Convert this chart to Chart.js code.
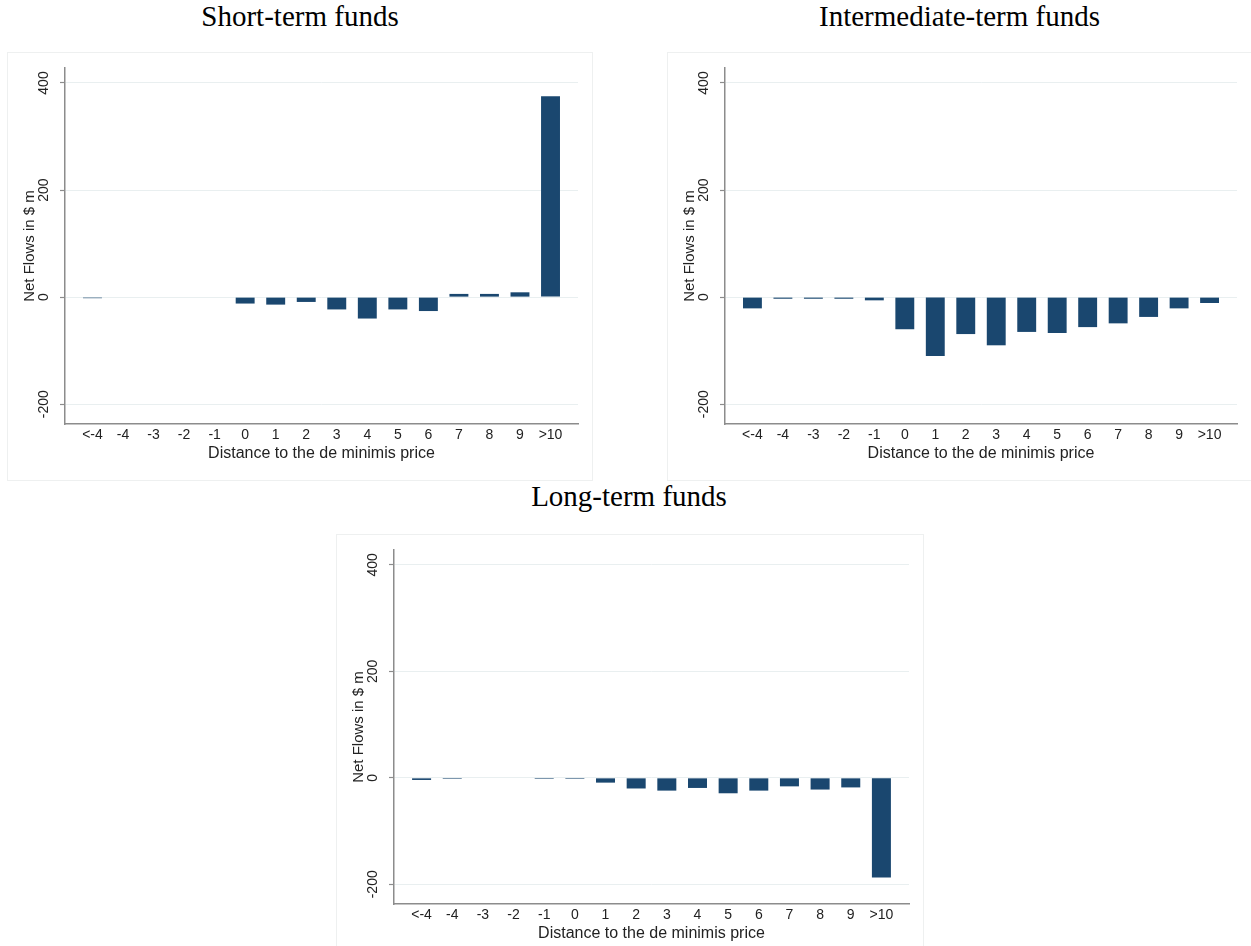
<!DOCTYPE html>
<html>
<head>
<meta charset="utf-8">
<script src="https://cdn.jsdelivr.net/npm/chart.js@4"></script>
<style>
    html, body {
        margin: 0;
        padding: 0;
        background: #fff;
        width: 1251px;
        height: 946px;
        overflow: hidden;
    }
    .panel-title {
        position: absolute;
        font-family: "Liberation Serif", "Times New Roman", serif;
        font-size: 29px;
        color: #000;
        text-align: center;
        white-space: nowrap;
    }
    .panel {
        position: absolute;
        border: 1px solid #eef0f0;
        background: #fff;
    }
    .panel canvas {
        display: block;
    }
</style>
</head>
<body>

<div class="panel-title" style="left:8px; width:584px; top:0px;">Short-term funds</div>
<div class="panel-title" style="left:668px; width:583px; top:0px;">Intermediate-term funds</div>
<div class="panel-title" style="left:336px; width:586px; top:480px;">Long-term funds</div>

<div class="panel" style="left:7px; top:52px; width:584px; height:427px;">
    <canvas id="shortChart" width="584" height="427"></canvas>
</div>
<div class="panel" style="left:667px; top:52px; width:583px; height:427px;">
    <canvas id="interChart" width="583" height="427"></canvas>
</div>
<div class="panel" style="left:336px; top:534px; width:586px; height:425px;">
    <canvas id="longChart" width="586" height="425"></canvas>
</div>

<script>
// distance buckets on the x axis
const distanceLabels = ['<-4', '-4', '-3', '-2', '-1', '0', '1', '2', '3', '4', '5', '6', '7', '8', '9', '>10'];
const yTicks = [-200, 0, 200, 400];

// net flows in $ m per bucket (null = no funds in that bucket)
const shortTermFlows = [-2, null, null, null, null, -12, -14, -9, -23, -40, -23, -26, 6, 6, 9, 375];
const intermediateTermFlows = [-21, -3, -3, -3, -6, -60, -110, -69, -90, -65, -67, -56, -49, -37, -21, -11];
const longTermFlows = [-4, -2, null, null, -2, -2, -9, -20, -24, -19, -29, -24, -16, -22, -18, -187];

const barColor = '#1a476f';
const axisColor = '#8c8c8c';
const gridColor = '#e9eff0';
const textColor = '#222';
const sansFont = '"Liberation Sans", Arial, Helvetica, sans-serif';

function makeChart(canvasId, flows) {
    const ctx = document.getElementById(canvasId).getContext('2d');
    return new Chart(ctx, {
        type: 'bar',
        data: {
            datasets: [{
                label: 'Net Flows',
                data: flows.map((v, i) => ({ x: i, y: v })),
                backgroundColor: barColor,
                borderWidth: 0,
                barPercentage: 0.62,
                categoryPercentage: 1.0
            }]
        },
        options: {
            responsive: false,
            animation: false,
            layout: {
                padding: { top: 15, right: 14, bottom: 0, left: 0 }
            },
            plugins: {
                legend: { display: false },
                tooltip: { enabled: false }
            },
            scales: {
                x: {
                    type: 'linear',
                    offset: false,
                    min: -0.9,
                    max: 15.9,
                    afterBuildTicks: (scale) => {
                        scale.ticks = distanceLabels.map((_, i) => ({ value: i }));
                    },
                    afterFit: (scale) => {
                        scale.height = 56;
                    },
                    grid: { display: false, drawTicks: false },
                    border: { display: true, color: axisColor, width: 1.5 },
                    ticks: {
                        autoSkip: false,
                        maxRotation: 0,
                        padding: 3,
                        color: textColor,
                        font: { family: sansFont, size: 14 },
                        callback: (value) => distanceLabels[value]
                    },
                    title: {
                        display: true,
                        text: 'Distance to the de minimis price',
                        color: textColor,
                        font: { family: sansFont, size: 16 },
                        padding: { top: 0, bottom: 17 }
                    }
                },
                y: {
                    min: -237,
                    max: 428,
                    afterBuildTicks: (scale) => {
                        scale.ticks = yTicks.map(v => ({ value: v }));
                    },
                    afterFit: (scale) => {
                        scale.width = 57;
                    },
                    grid: {
                        color: gridColor,
                        lineWidth: 1,
                        tickLength: 5,
                        tickColor: axisColor,
                        tickWidth: 1.2
                    },
                    border: { display: true, color: axisColor, width: 1.5 },
                    ticks: {
                        minRotation: 90,
                        maxRotation: 90,
                        crossAlign: 'center',
                        padding: 2,
                        color: textColor,
                        font: { family: sansFont, size: 14 }
                    },
                    title: {
                        display: true,
                        text: 'Net Flows in $ m',
                        color: textColor,
                        font: { family: sansFont, size: 15 },
                        padding: { top: 13, bottom: 0 }
                    }
                }
            }
        }
    });
}

makeChart('shortChart', shortTermFlows);
makeChart('interChart', intermediateTermFlows);
makeChart('longChart', longTermFlows);
</script>
</body>
</html>
